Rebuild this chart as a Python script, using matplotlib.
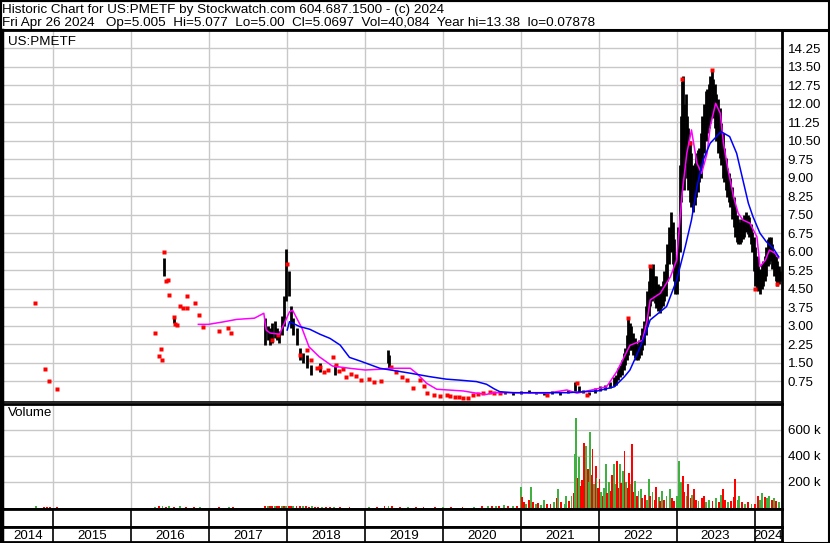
"""Stockwatch-style historic chart for US:PMETF (price bars, MAs, volume)."""
import numpy as np
import matplotlib
matplotlib.use("Agg")
import matplotlib.pyplot as plt
from matplotlib.patches import Rectangle

plt.rcParams["font.family"] = ["Liberation Sans", "DejaVu Sans"]

# ---- data (x = decimal year) ----
# high/low bars
bar_year = [2016.42, 2016.55,
            2017.72, 2017.75, 2017.78, 2017.81, 2017.84, 2017.87, 2017.90, 2017.93,
            2017.96, 2017.99, 2018.02, 2018.05, 2018.08, 2018.12, 2018.16, 2018.20,
            2018.25, 2018.30, 2018.42, 2018.62, 2019.29, 2019.31,
            2020.80, 2020.90, 2021.00, 2021.10, 2021.20, 2021.30, 2021.40, 2021.50,
            2021.60, 2021.70, 2021.75, 2021.80, 2021.88, 2021.95, 2022.02, 2022.08,
            2022.14, 2022.20, 2022.25, 2022.30, 2022.34, 2022.38, 2022.42, 2022.46,
            2022.50, 2022.54, 2022.58, 2022.62, 2022.66, 2022.70, 2022.74, 2022.78,
            2022.82, 2022.86, 2022.90, 2022.93, 2022.96, 2023.00, 2023.04, 2023.07,
            2023.10, 2023.13, 2023.17, 2023.21, 2023.25, 2023.29, 2023.33, 2023.37,
            2023.41, 2023.45, 2023.49, 2023.53, 2023.57, 2023.61, 2023.65, 2023.69,
            2023.73, 2023.77, 2023.81, 2023.85, 2023.89, 2023.93, 2023.97, 2024.01,
            2024.05, 2024.09, 2024.13, 2024.17, 2024.21, 2024.25, 2024.29, 2024.32,
            2022.22, 2022.27, 2022.32, 2022.36, 2022.40, 2022.44, 2022.48, 2022.52,
            2022.56, 2022.60, 2022.64, 2022.68, 2022.72, 2022.76, 2022.80, 2022.84,
            2022.88, 2022.95, 2022.98, 2023.02, 2023.055, 2023.085, 2023.115, 2023.15,
            2023.19, 2023.23, 2023.27, 2023.31, 2023.35, 2023.39, 2023.43, 2023.47,
            2023.51, 2023.55, 2023.59, 2023.63, 2023.67, 2023.71, 2023.75, 2023.79,
            2023.83, 2023.87, 2023.91, 2023.95, 2023.99, 2024.03, 2024.07, 2024.11,
            2024.15, 2024.19, 2024.23, 2024.27, 2024.31]
bar_hi = [5.75, 3.40,
          3.30, 3.00, 2.90, 3.10, 3.20, 2.90, 2.80, 3.40,
          4.20, 6.10, 5.20, 3.80, 3.30, 2.90, 2.10, 1.90,
          1.80, 1.40, 1.50, 1.40, 2.00, 1.80,
          0.30, 0.32, 0.35, 0.38, 0.32, 0.30, 0.35, 0.30,
          0.40, 0.70, 0.55, 0.40, 0.30, 0.45, 0.55, 0.60,
          0.70, 0.90, 1.30, 1.60, 2.10, 3.30, 3.00, 2.50,
          2.20, 2.60, 3.20, 4.40, 5.40, 5.50, 5.00, 4.60,
          4.80, 5.50, 7.00, 7.60, 6.50, 5.50, 9.50, 12.90,
          12.00, 11.50, 10.50, 9.50, 10.00, 10.20, 11.50, 12.50,
          12.80, 13.36, 12.80, 12.20, 11.20, 10.20, 9.40, 9.00,
          8.20, 7.50, 7.20, 7.30, 7.60, 7.40, 6.80, 6.20,
          5.40, 5.50, 5.80, 6.50, 6.60, 6.00, 5.60, 5.20,
          1.00, 1.40, 1.90, 2.60, 3.10, 2.70, 2.30, 2.40,
          2.90, 3.80, 4.80, 5.30, 5.00, 4.70, 4.60, 5.20,
          6.30, 7.20, 5.60, 7.00, 11.50, 13.10, 12.40, 11.00,
          10.00, 9.60, 10.10, 10.80, 12.00, 12.60, 13.10, 13.00,
          12.40, 11.80, 10.80, 9.80, 9.20, 8.60, 7.80, 7.30,
          7.30, 7.50, 7.50, 7.10, 6.60, 5.80, 5.30, 5.60,
          6.20, 6.60, 6.30, 5.80, 5.40]
bar_lo = [5.00, 3.10,
          2.20, 2.40, 2.20, 2.30, 2.50, 2.40, 2.30, 2.60,
          3.00, 4.00, 4.20, 2.90, 2.60, 2.20, 1.60, 1.50,
          1.30, 1.00, 1.10, 1.00, 1.50, 1.30,
          0.22, 0.20, 0.22, 0.25, 0.22, 0.20, 0.22, 0.20,
          0.25, 0.35, 0.30, 0.25, 0.20, 0.25, 0.35, 0.40,
          0.45, 0.55, 0.80, 1.00, 1.40, 1.80, 2.00, 1.70,
          1.60, 1.80, 2.20, 3.00, 3.80, 4.20, 3.70, 3.50,
          3.80, 4.20, 5.50, 6.00, 4.80, 4.30, 6.00, 9.00,
          8.50, 9.00, 8.00, 7.60, 8.20, 8.80, 9.50, 10.50,
          11.00, 11.50, 11.00, 10.00, 9.50, 8.80, 8.20, 7.80,
          7.00, 6.40, 6.30, 6.50, 6.80, 6.60, 6.00, 4.60,
          4.40, 4.50, 4.80, 5.40, 5.60, 5.00, 4.60, 4.80,
          0.60, 0.90, 1.20, 1.60, 2.00, 1.80, 1.60, 1.70,
          2.00, 2.60, 3.40, 4.00, 3.90, 3.60, 3.70, 4.00,
          4.80, 5.50, 4.30, 4.80, 8.00, 10.00, 9.50, 8.50,
          7.80, 7.90, 8.40, 9.00, 10.00, 10.80, 11.20, 11.40,
          10.50, 9.80, 9.00, 8.50, 8.00, 7.30, 6.60, 6.30,
          6.40, 6.60, 6.70, 6.30, 5.20, 4.50, 4.30, 4.60,
          5.00, 5.50, 5.30, 4.80, 4.70]

# isolated closes (red dots)
dot_year = [2014.76, 2014.89, 2014.94, 2015.04,
            2016.30, 2016.36, 2016.38, 2016.39, 2016.42, 2016.45, 2016.47, 2016.48,
            2016.55, 2016.56, 2016.58, 2016.62, 2016.66, 2016.71, 2016.72, 2016.82,
            2016.87, 2016.92, 2017.12, 2017.24, 2017.28,
            2017.80, 2017.88, 2018.00, 2018.17, 2018.25, 2018.30, 2018.38, 2018.42,
            2018.47, 2018.52, 2018.59, 2018.63, 2018.67, 2018.72, 2018.76, 2018.82,
            2018.88, 2018.95, 2019.05, 2019.12, 2019.20, 2019.33, 2019.40, 2019.48,
            2019.54, 2019.61, 2019.70, 2019.75, 2019.79, 2019.88, 2019.96, 2020.05,
            2020.09, 2020.15, 2020.20, 2020.26, 2020.32, 2020.39, 2020.45, 2020.52,
            2020.60, 2020.66, 2020.73, 2021.34, 2021.72, 2021.85, 2022.38, 2022.66,
            2023.07, 2023.45, 2023.17, 2024.01, 2024.29]
dot_px = [3.90, 1.25, 0.75, 0.44,
          2.71, 1.75, 2.05, 1.62, 5.97, 4.80, 4.85, 4.22,
          3.36, 3.05, 3.03, 3.79, 3.73, 3.73, 4.20, 3.93,
          3.43, 2.96, 2.79, 2.91, 2.70,
          2.40, 2.60, 5.50, 1.80, 2.00, 1.60, 1.30, 1.33,
          1.10, 1.20, 1.74, 1.40, 1.15, 1.25, 0.93, 1.05,
          0.95, 0.80, 0.85, 0.70, 0.75, 1.33, 1.10, 0.90,
          0.80, 0.46, 0.80, 0.55, 0.26, 0.20, 0.15, 0.18,
          0.16, 0.12, 0.10, 0.05, 0.08, 0.19, 0.22, 0.25,
          0.32, 0.28, 0.28, 0.19, 0.66, 0.19, 3.30, 5.40,
          13.00, 13.36, 10.40, 4.50, 4.70]

# short moving average (magenta)
ma_s_year = [2016.86, 2016.99, 2017.18, 2017.35, 2017.58, 2017.70, 2017.73, 2017.78,
             2017.90, 2018.03, 2018.07, 2018.19, 2018.28, 2018.41, 2018.58, 2018.80,
             2019.00, 2019.19, 2019.32, 2019.58, 2019.66, 2019.79, 2019.92, 2020.26,
             2020.43, 2020.56, 2020.64, 2020.90, 2021.34, 2021.59, 2021.72, 2021.85,
             2022.10, 2022.23, 2022.31, 2022.40, 2022.48, 2022.56, 2022.62, 2022.66,
             2022.79, 2022.92, 2023.00, 2023.07, 2023.13, 2023.19, 2023.26, 2023.32,
             2023.39, 2023.43, 2023.50, 2023.56, 2023.60, 2023.66, 2023.73, 2023.79,
             2023.85, 2023.94, 2024.03, 2024.07, 2024.14, 2024.19, 2024.26, 2024.31]
ma_s = [3.05, 3.05, 3.15, 3.25, 3.30, 3.50, 2.82, 2.70,
        2.65, 3.56, 3.62, 2.89, 2.14, 1.74, 1.36, 1.27,
        1.20, 1.23, 1.27, 1.27, 1.07, 0.66, 0.42, 0.35,
        0.26, 0.21, 0.28, 0.28, 0.26, 0.39, 0.26, 0.35,
        0.52, 1.13, 1.63, 2.20, 2.30, 2.40, 3.20, 4.04,
        4.31, 4.98, 5.66, 8.36, 9.98, 10.93, 9.58, 9.17,
        9.98, 11.06, 12.01, 11.60, 10.39, 9.31, 8.22, 7.55,
        7.28, 7.15, 6.60, 5.39, 5.66, 6.06, 5.94, 5.74]

# long moving average (blue)
ma_l_year = [2018.00, 2018.03, 2018.16, 2018.29, 2018.42, 2018.55, 2018.68, 2018.80,
             2018.94, 2019.19, 2019.58, 2019.83, 2020.04, 2020.21, 2020.43, 2020.56,
             2020.66, 2020.73, 2020.90, 2021.60, 2021.81, 2021.98, 2022.20, 2022.33,
             2022.40, 2022.50, 2022.58, 2022.66, 2022.87, 2023.00, 2023.11, 2023.19,
             2023.26, 2023.34, 2023.43, 2023.51, 2023.57, 2023.68, 2023.77, 2023.85,
             2023.92, 2023.98, 2024.07, 2024.15, 2024.24, 2024.31]
ma_l = [2.82, 3.16, 2.96, 2.85, 2.65, 2.48, 2.21, 1.71,
        1.56, 1.27, 1.07, 0.93, 0.83, 0.79, 0.73, 0.62,
        0.43, 0.32, 0.28, 0.28, 0.32, 0.35, 0.52, 0.93,
        1.20, 1.90, 2.50, 3.23, 3.77, 4.85, 6.20, 7.28,
        8.63, 9.71, 10.39, 10.66, 10.86, 10.66, 9.98, 8.90,
        7.96, 7.41, 6.74, 6.40, 6.13, 5.79]

# volume in thousands, up=1 green / 0 red
vol_year = [2014.78, 2014.88, 2014.92, 2014.95, 2015.05, 2016.30, 2016.36, 2016.40,
            2016.44, 2016.48, 2016.55, 2016.62, 2016.70, 2016.80, 2016.88, 2017.12,
            2017.25, 2017.30, 2017.72, 2017.75, 2017.78, 2017.81, 2017.84, 2017.87,
            2017.90, 2017.93, 2017.96, 2017.99, 2018.02, 2018.05, 2018.08, 2018.12,
            2018.16, 2018.20, 2018.24, 2018.28, 2018.32, 2018.36, 2018.40, 2018.45,
            2018.50, 2018.55, 2018.60, 2018.68, 2018.80, 2019.05, 2019.15, 2019.25,
            2019.30, 2019.35, 2019.45, 2019.55, 2019.65, 2019.75, 2019.90, 2020.00,
            2020.10, 2020.25, 2020.40, 2020.50, 2020.58, 2020.63, 2020.68, 2020.72,
            2020.78, 2020.84, 2020.90, 2020.95,
            2021.00, 2021.01, 2021.04, 2021.07, 2021.10, 2021.13, 2021.15, 2021.19,
            2021.22, 2021.26, 2021.30, 2021.34, 2021.38, 2021.42, 2021.46, 2021.48,
            2021.52, 2021.56, 2021.58, 2021.62, 2021.65, 2021.68, 2021.70, 2021.71,
            2021.73, 2021.75, 2021.77, 2021.79, 2021.81, 2021.83, 2021.84, 2021.86,
            2021.88, 2021.89, 2021.91, 2021.92, 2021.94, 2021.96, 2021.97, 2021.99,
            2022.01, 2022.03, 2022.05, 2022.07, 2022.09, 2022.11, 2022.13, 2022.15,
            2022.17, 2022.19, 2022.21, 2022.23, 2022.25, 2022.27, 2022.29, 2022.31,
            2022.33, 2022.35, 2022.37, 2022.39, 2022.41, 2022.43, 2022.45, 2022.47,
            2022.49, 2022.51, 2022.54, 2022.56, 2022.59, 2022.62, 2022.64, 2022.66,
            2022.69, 2022.72, 2022.74, 2022.77, 2022.79, 2022.81, 2022.84, 2022.87,
            2022.91, 2022.94, 2022.97, 2023.00, 2023.03, 2023.05, 2023.08, 2023.10,
            2023.13, 2023.15, 2023.18, 2023.20, 2023.22, 2023.25, 2023.28, 2023.32,
            2023.35, 2023.38, 2023.42, 2023.46, 2023.50, 2023.54, 2023.57, 2023.59,
            2023.62, 2023.66, 2023.70, 2023.73, 2023.75, 2023.78, 2023.80, 2023.84,
            2023.88, 2023.92, 2023.96, 2024.00, 2024.04, 2024.07, 2024.10, 2024.13,
            2024.16, 2024.19, 2024.22, 2024.25, 2024.28, 2024.31]
vol_k = [8, 6, 5, 6, 4, 6, 8, 10,
         7, 9, 6, 8, 6, 7, 5, 6,
         5, 6, 12, 10, 9, 11, 8, 10,
         9, 11, 12, 14, 12, 10, 9, 10,
         8, 9, 8, 7, 8, 7, 6, 7,
         6, 7, 6, 5, 5, 6, 5, 8,
         12, 8, 6, 7, 6, 5, 6, 5,
         6, 5, 7, 8, 12, 9, 14, 10,
         16, 12, 10, 14,
         160, 77, 45, 30, 55, 160, 40, 25,
         35, 20, 60, 30, 25, 40, 70, 146,
         40, 30, 90, 50, 90, 110, 410, 692,
         230, 390, 167, 210, 500, 220, 474, 300,
         200, 577, 250, 449, 180, 320, 230, 150,
         218, 120, 90, 150, 333, 110, 200, 130,
         250, 333, 180, 359, 150, 333, 190, 280,
         436, 200, 150, 269, 180, 487, 120, 205,
         90, 130, 141, 70, 100, 60, 218, 90,
         120, 60, 154, 80, 50, 128, 60, 90,
         141, 70, 50, 90, 359, 200, 244, 120,
         90, 180, 70, 100, 141, 60, 50, 70,
         90, 40, 60, 50, 70, 40, 100, 141,
         60, 40, 50, 80, 218, 60, 90, 40,
         30, 40, 30, 30, 90, 60, 110, 80,
         70, 90, 60, 75, 50, 40]
vol_up = [1, 0, 0, 0, 0, 1, 0, 1,
          0, 1, 0, 1, 0, 0, 1, 0,
          1, 0, 0, 1, 0, 0, 1, 0,
          0, 1, 0, 1, 0, 0, 1, 0,
          0, 1, 0, 0, 1, 0, 0, 1,
          0, 0, 1, 0, 0, 1, 0, 0,
          1, 0, 0, 1, 0, 0, 0, 1,
          0, 0, 1, 0, 1, 0, 1, 0,
          1, 0, 1, 0,
          1, 0, 0, 1, 0, 1, 0, 1,
          0, 1, 1, 0, 0, 1, 0, 1,
          0, 1, 1, 0, 1, 0, 1, 1,
          0, 1, 0, 0, 0, 1, 1, 0,
          1, 1, 0, 0, 1, 0, 1, 0,
          0, 1, 0, 1, 1, 0, 1, 0,
          0, 1, 1, 0, 0, 1, 0, 1,
          0, 1, 0, 0, 1, 0, 0, 1,
          0, 1, 1, 0, 0, 1, 1, 0,
          1, 0, 0, 1, 0, 1, 0, 1,
          1, 0, 0, 1, 1, 1, 0, 0,
          1, 0, 0, 1, 0, 0, 1, 0,
          0, 1, 1, 0, 1, 0, 1, 0,
          0, 1, 0, 0, 0, 1, 1, 0,
          1, 0, 1, 0, 0, 1, 1, 0,
          1, 1, 0, 1, 0, 1]

price_ticks = [0.75, 1.50, 2.25, 3.00, 3.75, 4.50, 5.25, 6.00, 6.75, 7.50, 8.25,
               9.00, 9.75, 10.50, 11.25, 12.00, 12.75, 13.50, 14.25]
vol_ticks = [200, 400, 600]
years = list(range(2014, 2025))

header1 = "Historic Chart for US:PMETF by Stockwatch.com 604.687.1500 - (c) 2024"
header2 = ("Fri Apr 26 2024   Op=5.005  Hi=5.077  Lo=5.00  Cl=5.0697  "
           "Vol=40,084  Year hi=13.38  lo=0.07878")

# ---- layout in pixels ----
W, H = 830, 543
X0, X1 = 2014.339, 2024.352
GRID = "#c8c8c8"
FS = 9.6


def rect(x0, y0, x1, y1):
    return [x0 / W, 1 - y1 / H, (x1 - x0) / W, (y1 - y0) / H]


def frame(ax, lw=1.5):
    for s in ax.spines.values():
        s.set_color("black")
        s.set_linewidth(lw)


fig = plt.figure(figsize=(W / 100, H / 100), dpi=100)

# header box
hax = fig.add_axes(rect(0.5, 0.5, 829.5, 30))
hax.set_xticks([])
hax.set_yticks([])
frame(hax, 1.5)
hax.spines["bottom"].set_linewidth(2.2)
hax.text(2 / 829, 1 - 9.3 / 29.5, header1, fontsize=9.7, va="center", ha="left",
         transform=hax.transAxes)
hax.text(2 / 829, 1 - 22.3 / 29.5, header2, fontsize=9.7, va="center", ha="left",
         transform=hax.transAxes)

# price panel
ax = fig.add_axes(rect(2, 30, 782, 401.5))
ax.set_xlim(X0, X1)
ax.set_ylim(-0.077, 14.98)
ax.set_yticks(price_ticks)
ax.set_yticklabels([f"{t:.2f}" for t in price_ticks])
ax.yaxis.tick_right()
ax.tick_params(axis="y", length=0, pad=4, labelsize=FS)
ax.set_xticks(years[1:])
ax.tick_params(axis="x", length=0, labelbottom=False)
ax.grid(True, color=GRID, lw=1)
ax.set_axisbelow(True)
frame(ax, 2)
ax.spines["left"].set_linewidth(2.5)
ax.spines["bottom"].set_linewidth(1.2)

ax.vlines(bar_year, bar_lo, bar_hi, color="black", lw=2.0, zorder=3)
ax.plot(dot_year, dot_px, ls="none", marker="s", ms=2.3, mec="none", mfc="#ff0000", zorder=4)
ax.plot(ma_s_year, ma_s, color="#ff00ff", lw=1.1, zorder=5)
ax.plot(ma_l_year, ma_l, color="#0000ff", lw=1.1, zorder=5)
ax.text(6 / 780, 1 - 12 / 371.5, "US:PMETF", fontsize=FS, transform=ax.transAxes,
        va="center", ha="left")

# volume panel
vax = fig.add_axes(rect(2, 403.5, 782, 509))
vax.set_xlim(X0, X1)
vax.set_ylim(-11.5, 800)
vax.set_yticks(vol_ticks)
vax.set_yticklabels([f"{t} k" for t in vol_ticks])
vax.yaxis.tick_right()
vax.tick_params(axis="y", length=0, pad=4, labelsize=FS)
vax.set_xticks(years[1:])
vax.tick_params(axis="x", length=0, labelbottom=False)
vax.grid(True, color=GRID, lw=1)
vax.set_axisbelow(True)
frame(vax, 2)
vax.spines["left"].set_linewidth(2.5)
vcol = ["#40b040" if u else "#ff0000" for u in vol_up]
vax.bar(vol_year, vol_k, width=0.024, color=vcol, lw=0, zorder=3)
vax.text(6 / 780, 1 - 10 / 105.5, "Volume", fontsize=FS, transform=vax.transAxes,
         va="center", ha="left")

# empty row and year-label row
for y0, y1 in [(509, 527), (527, 542)]:
    rax = fig.add_axes(rect(2, y0, 782, y1))
    rax.set_xlim(X0, X1)
    rax.set_ylim(0, 1)
    rax.set_xticks([])
    rax.set_yticks([])
    frame(rax, 2)
    rax.spines["left"].set_linewidth(2.5)
    for yr in years[1:]:
        rax.axvline(yr, color="black", lw=1.2)
    if y0 == 527:
        for yr in years:
            lo, hi = max(yr, X0), min(yr + 1, X1)
            rax.text((lo + hi) / 2, 0.42, str(yr), fontsize=FS, ha="center", va="center")

# outer border on the right/bottom
fig.add_artist(Rectangle((0.5 / W, 0.5 / H), 828.5 / W, 541.5 / H,
                         transform=fig.transFigure, fill=False, ec="black", lw=1.5))

fig.savefig("out.png", dpi=100)
